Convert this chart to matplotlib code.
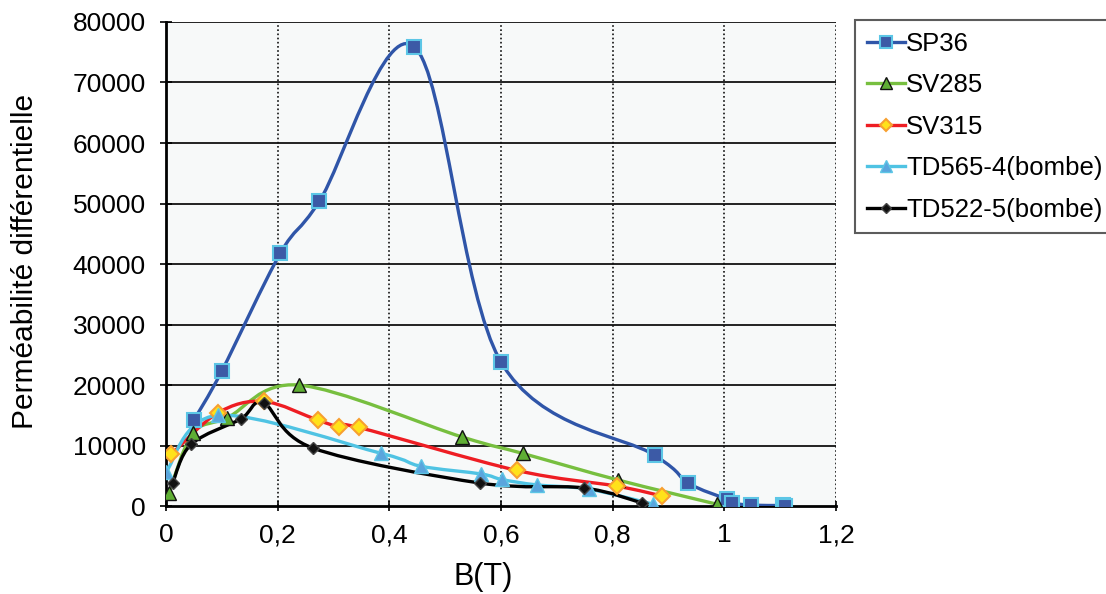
import numpy as np
import matplotlib.pyplot as plt
from matplotlib.path import Path
from matplotlib.patches import PathPatch
from matplotlib.lines import Line2D

plt.rcParams['font.family'] = ['Liberation Sans', 'DejaVu Sans']

# values (B in T, differential permeability)
sp36_b = [0.05, 0.10, 0.205, 0.275, 0.445, 0.60, 0.875, 0.935, 1.005, 1.014, 1.048, 1.104, 1.108]
sp36_mu = [14200, 22300, 41800, 50400, 75900, 23800, 8400, 3800, 1100, 500, 150, 100, 80]

sv285_b = [0.005, 0.048, 0.11, 0.238, 0.531, 0.639, 0.81, 0.987]
sv285_mu = [2100, 12000, 14600, 20000, 11400, 8700, 4300, 300]

sv315_b = [0.01, 0.093, 0.175, 0.272, 0.31, 0.345, 0.628, 0.807, 0.889]
sv315_mu = [8600, 15400, 17300, 14200, 13100, 13000, 5900, 3300, 1650]

td565_b = [0.0, 0.093, 0.386, 0.456, 0.565, 0.601, 0.664, 0.757, 0.873]
td565_mu = [5600, 15000, 8700, 6600, 5300, 4400, 3500, 2800, 300]

td522_b = [0.012, 0.045, 0.134, 0.175, 0.263, 0.563, 0.748, 0.853]
td522_mu = [3800, 10200, 14400, 17000, 9600, 3800, 3000, 500]

x_ticks = [0, 0.2, 0.4, 0.6, 0.8, 1.0, 1.2]
x_labels = ['0', '0,2', '0,4', '0,6', '0,8', '1', '1,2']
y_ticks = [0, 10000, 20000, 30000, 40000, 50000, 60000, 70000, 80000]


def smooth_path(x, y):
	# Excel style smoothed line : cubic bezier through every point
	p = np.column_stack([x, y]).astype(float)
	n = len(p)
	verts = [p[0]]
	codes = [Path.MOVETO]
	for i in range(n - 1):
		p0 = p[i - 1] if i > 0 else p[i]
		p3 = p[i + 2] if i + 2 < n else p[i + 1]
		c1 = p[i] + (p[i + 1] - p0) / 6.
		c2 = p[i + 1] - (p3 - p[i]) / 6.
		verts += [c1, c2, p[i + 1]]
		codes += [Path.CURVE4] * 3
	return Path(verts, codes)


series = [
	('SP36', sp36_b, sp36_mu, dict(color='#2f55a8', marker='s', ms=10, mfc='#3c5aa6', mec='#5cc6e6', mew=1.5)),
	('SV285', sv285_b, sv285_mu, dict(color='#77bf3f', marker='^', ms=10.5, mfc='#5fae34', mec='#111111', mew=1.0)),
	('SV315', sv315_b, sv315_mu, dict(color='#ee1d23', marker='D', ms=8, mfc='#ffe21a', mec='#f7a030', mew=1.5)),
	('TD565-4(bombe)', td565_b, td565_mu, dict(color='#4fc3e3', marker='^', ms=10.5, mfc='#5aa5dd', mec='#5cc6e6', mew=1.0)),
	('TD522-5(bombe)', td522_b, td522_mu, dict(color='#000000', marker='D', ms=6, mfc='#111111', mec='#444444', mew=1.0)),
]

fig = plt.figure(figsize=(11.06, 5.94), dpi=100)
ax = fig.add_axes([0.150, 0.148, 0.606, 0.815])
ax.set_facecolor('#f7f9f9')

handles = []
for name, b, mu, st in series:
	ax.add_patch(PathPatch(smooth_path(b, mu), fill=False, edgecolor=st['color'], lw=2.4, zorder=3, capstyle='round'))
	ax.plot(b, mu, linestyle='none', marker=st['marker'], markersize=st['ms'],
		markerfacecolor=st['mfc'], markeredgecolor=st['mec'], markeredgewidth=st['mew'], zorder=4)
	handles.append(Line2D([], [], color=st['color'], lw=2.4, marker=st['marker'], markersize=st['ms'] * 0.8,
		markerfacecolor=st['mfc'], markeredgecolor=st['mec'], markeredgewidth=st['mew']))

ax.set_xlim(0, 1.2)
ax.set_ylim(0, 80000)
ax.set_xticks(x_ticks)
ax.set_xticklabels(x_labels)
ax.set_yticks(y_ticks)
ax.tick_params(axis='y', labelsize=19, direction='inout', length=9, width=1.2, color='black', pad=10)
ax.tick_params(axis='x', labelsize=19, direction='inout', length=7, width=1.2, color='black', pad=9)

for y in y_ticks[1:]:
	ax.axhline(y, color='#111111', lw=1.3, zorder=1)
for x in x_ticks[1:]:
	ax.axvline(x, color='#111111', lw=1.2, ls=(0, (1, 1.5)), zorder=1)

for s in ['top', 'right']:
	ax.spines[s].set_visible(False)
ax.spines['left'].set_linewidth(2)
ax.spines['bottom'].set_linewidth(2)

ax.set_xlabel('B(T)', fontsize=22)
ax.xaxis.set_label_coords(0.473, -0.115)
ax.set_ylabel('Perméabilité différentielle', fontsize=21.5)
ax.yaxis.set_label_coords(-0.19, 0.505)

leg = fig.legend(handles, [s[0] for s in series], loc='upper left', bbox_to_anchor=(0.773, 0.966),
	fontsize=18.5, frameon=True, fancybox=False, edgecolor='#333333', handlelength=1.5,
	handletextpad=0.05, labelspacing=0.68, borderpad=0.45, borderaxespad=0)
leg.get_frame().set_linewidth(1.5)

plt.savefig('out.png', dpi=100)
